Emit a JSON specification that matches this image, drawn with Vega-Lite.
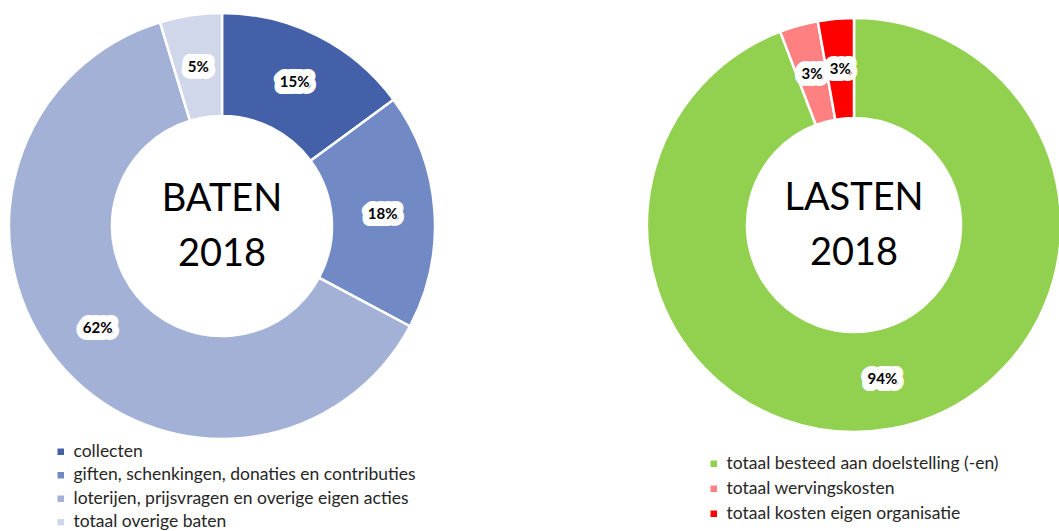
{
  "$schema": "https://vega.github.io/schema/vega-lite/v6.json",
  "padding": 0,
  "background": "white",
  "config": {"view": {"stroke": null}, "font": "Lato"},
  "datasets": {
    "baten": [
      {"cat": "collecten", "value": 14.9, "label": "15%", "idx": 1},
      {"cat": "giften, schenkingen, donaties en contributies", "value": 17.9, "label": "18%", "idx": 2},
      {"cat": "loterijen, prijsvragen en overige eigen acties", "value": 62.5, "label": "62%", "idx": 3},
      {"cat": "totaal overige baten", "value": 4.7, "label": "5%", "idx": 4}
    ],
    "lasten": [
      {"cat": "totaal besteed aan doelstelling (-en)", "value": 94.2, "label": "94%", "idx": 1},
      {"cat": "totaal wervingskosten", "value": 3.0, "label": "3%", "idx": 2},
      {"cat": "totaal kosten eigen organisatie", "value": 2.8, "label": "3%", "idx": 3}
    ]
  },
  "resolve": {"scale": {"color": "independent", "theta": "independent"}, "legend": {"color": "independent"}},
  "spacing": 198,
  "hconcat": [
    {
      "width": 444,
      "height": 452,
      "layer": [
        {
          "data": {"name": "baten"},
          "mark": {"type": "arc", "outerRadius": 213, "innerRadius": 110, "stroke": "white", "strokeWidth": 2.5},
          "encoding": {
            "theta": {"field": "value", "type": "quantitative", "stack": true},
            "order": {"field": "idx", "type": "quantitative"},
            "color": {
              "field": "cat", "type": "nominal",
              "scale": {
                "domain": ["collecten", "giften, schenkingen, donaties en contributies", "loterijen, prijsvragen en overige eigen acties", "totaal overige baten"],
                "range": ["#4360A8", "#7189C4", "#A3B1D7", "#D1D7EB"]
              },
              "legend": {
                "orient": "none", "legendX": 52, "legendY": 443, "title": null, "direction": "vertical",
                "symbolType": "square", "symbolSize": 42, "symbolStrokeWidth": 0,
                "labelFontSize": 17.5, "labelFont": "Lato", "labelColor": "#262626",
                "rowPadding": 4.5, "labelOffset": 4, "labelLimit": 0
              }
            }
          }
        },
        {
          "data": {"name": "baten"},
          "mark": {"type": "text", "radius": 161, "fontWeight": "bold", "fontSize": 15, "fill": "white", "stroke": "white", "strokeWidth": 14, "strokeJoin": "round"},
          "encoding": {
            "theta": {"field": "value", "type": "quantitative", "stack": true},
            "order": {"field": "idx", "type": "quantitative"},
            "text": {"field": "label"}
          }
        },
        {
          "data": {"name": "baten"},
          "mark": {"type": "text", "radius": 161, "fontWeight": "bold", "fontSize": 15, "fill": "black"},
          "encoding": {
            "theta": {"field": "value", "type": "quantitative", "stack": true},
            "order": {"field": "idx", "type": "quantitative"},
            "text": {"field": "label"}
          }
        },
        {
          "data": {"values": [{"title": "BATEN\n2018"}]},
          "mark": {"type": "text", "lineBreak": "\n", "fontSize": 38, "lineHeight": 54.5, "fill": "black", "dy": -26},
          "encoding": {"text": {"field": "title"}}
        }
      ]
    },
    {
      "width": 412,
      "height": 450,
      "layer": [
        {
          "data": {"name": "lasten"},
          "mark": {"type": "arc", "outerRadius": 207, "innerRadius": 107, "stroke": "white", "strokeWidth": 2.5},
          "encoding": {
            "theta": {"field": "value", "type": "quantitative", "stack": true},
            "order": {"field": "idx", "type": "quantitative"},
            "color": {
              "field": "cat", "type": "nominal",
              "scale": {
                "domain": ["totaal besteed aan doelstelling (-en)", "totaal wervingskosten", "totaal kosten eigen organisatie"],
                "range": ["#92D050", "#FF8080", "#FF0000"]
              },
              "legend": {
                "orient": "none", "legendX": 57, "legendY": 455, "title": null, "direction": "vertical",
                "symbolType": "square", "symbolSize": 42, "symbolStrokeWidth": 0,
                "labelFontSize": 17.5, "labelFont": "Lato", "labelColor": "#262626",
                "rowPadding": 6, "labelOffset": 4, "labelLimit": 0
              }
            }
          }
        },
        {
          "data": {"name": "lasten"},
          "mark": {"type": "text", "radius": 157, "fontWeight": "bold", "fontSize": 15, "fill": "white", "stroke": "white", "strokeWidth": 14, "strokeJoin": "round"},
          "encoding": {
            "theta": {"field": "value", "type": "quantitative", "stack": true},
            "order": {"field": "idx", "type": "quantitative"},
            "text": {"field": "label"}
          }
        },
        {
          "data": {"name": "lasten"},
          "mark": {"type": "text", "radius": 157, "fontWeight": "bold", "fontSize": 15, "fill": "black"},
          "encoding": {
            "theta": {"field": "value", "type": "quantitative", "stack": true},
            "order": {"field": "idx", "type": "quantitative"},
            "text": {"field": "label"}
          }
        },
        {
          "data": {"values": [{"title": "LASTEN\n2018"}]},
          "mark": {"type": "text", "lineBreak": "\n", "fontSize": 38, "lineHeight": 54.5, "fill": "black", "dy": -26},
          "encoding": {"text": {"field": "title"}}
        }
      ]
    }
  ]
}
